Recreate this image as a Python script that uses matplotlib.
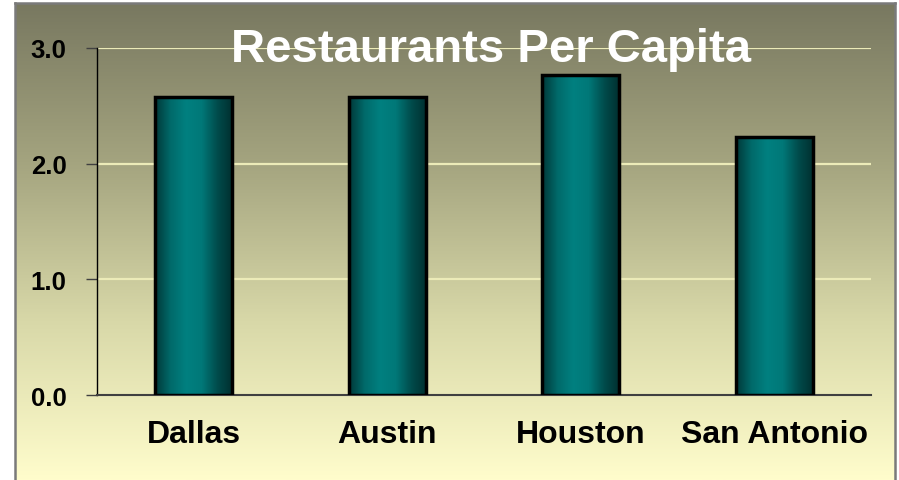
import numpy as np
import matplotlib.pyplot as plt
from matplotlib.colors import LinearSegmentedColormap

cities = ["Dallas", "Austin", "Houston", "San Antonio"]
per_capita = [2.58, 2.58, 2.77, 2.23]
yticks = [0.0, 1.0, 2.0, 3.0]
title = "Restaurants Per Capita"

W, H = 899, 481
plt.rcParams['font.family'] = ['Liberation Sans', 'DejaVu Sans']
fig = plt.figure(figsize=(W / 100, H / 100), dpi=100)
fig.patch.set_facecolor("white")

# background panel with vertical gradient
bg = fig.add_axes([15 / W, 0, 880 / W, 1 - 4 / H])
bg_cmap = LinearSegmentedColormap.from_list(
    "bg", ["#787860", "#a4a47f", "#d8d8a8", "#fffdcc"])
bg.imshow(np.linspace(0, 1, 256).reshape(-1, 1), aspect="auto", cmap=bg_cmap,
          extent=[0, 1, 0, 1], origin="upper")
bg.set_xlim(0, 1)
bg.set_ylim(0, 1)
bg.set_xticks([])
bg.set_yticks([])
for side in ["left", "right", "top"]:
    bg.spines[side].set_color("#7a7a7a")
    bg.spines[side].set_linewidth(1.8)
bg.spines["bottom"].set_visible(False)

ax = fig.add_axes([97 / W, 1 - 396 / H, 774 / W, 347 / H])
ax.patch.set_alpha(0)
x = np.arange(len(cities))

bar_cmap = LinearSegmentedColormap.from_list(
    "bar", ["#003838", "#006a6a", "#008080", "#007878", "#004c4c", "#002e2e"])
grad = np.linspace(0, 1, 256).reshape(1, -1)
w = 0.40
bars = ax.bar(x, per_capita, width=w, facecolor="none", edgecolor="black",
              linewidth=2.5, zorder=4)
for b in bars:
    bx, by = b.get_x(), b.get_y()
    im = ax.imshow(grad, aspect="auto", cmap=bar_cmap,
                   extent=[bx, bx + b.get_width(), by, by + b.get_height()],
                   zorder=3)
    im.set_clip_path(b)

ax.set_xlim(-0.5, len(cities) - 0.5)
ax.set_ylim(0, 3.0)
ax.set_yticks(yticks)
ax.set_yticklabels([f"{v:.1f}" for v in yticks], fontsize=18.5, fontweight="bold")
ax.set_xticks(x)
ax.set_xticklabels(cities, fontsize=23, fontweight="bold")
ax.tick_params(axis="x", length=0, pad=17)
ax.tick_params(axis="y", length=8, width=1, color="#404040", pad=14)
for v in yticks[1:]:
    ax.axhline(v, color="#ecebb8", lw=1.6, zorder=1)
ax.spines["top"].set_visible(False)
ax.spines["right"].set_visible(False)
ax.spines["left"].set_color("black")
ax.spines["left"].set_linewidth(1.0)
ax.spines["bottom"].set_color("#404040")
ax.spines["bottom"].set_linewidth(1.5)

fig.text(491 / W, 1 - 62 / H, title, ha="center", va="baseline",
         fontsize=34, fontweight="bold", color="white", zorder=10)

fig.savefig("out.png", dpi=100)
